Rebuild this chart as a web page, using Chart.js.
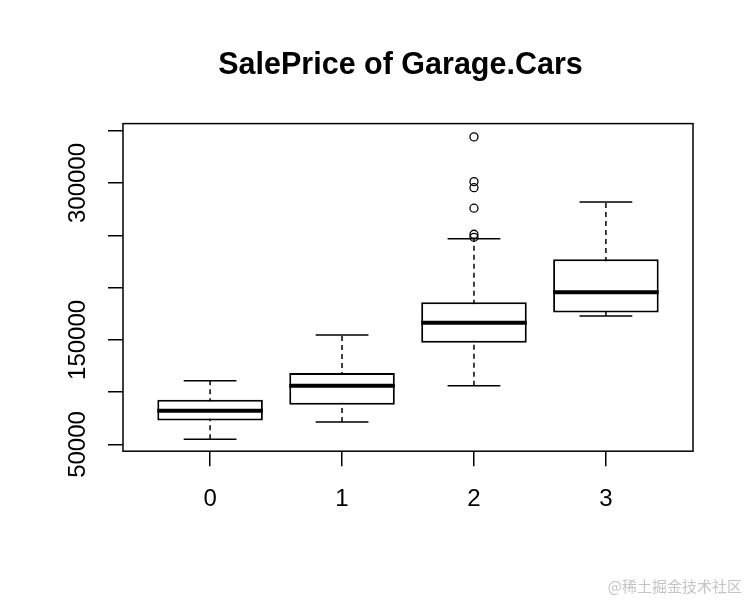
<!DOCTYPE html>
<html>
<head>
<meta charset="utf-8">
<script src="https://cdn.jsdelivr.net/npm/chart.js@4"></script>
<style>
  html, body { margin: 0; padding: 0; background: #fff; }
  #wrap { width: 756px; height: 606px; }
</style>
</head>
<body>
<div id="wrap"><canvas id="myChart" width="756" height="606"></canvas></div>
<script>
// boxplot stats, one entry per Garage.Cars group
var categories = ['0', '1', '2', '3'];
var whiskerLow = [55100, 71400, 106100, 172900];
var q1 = [73000, 87900, 147300, 176100];
var median = [82200, 106100, 166500, 195600];
var q3 = [92700, 118300, 186000, 227200];
var whiskerHigh = [110900, 154700, 246700, 281800];
var outliers = [[], [], [344100, 301300, 295500, 275900, 251000, 248100], []];
var yTicks = [50000, 100000, 150000, 200000, 250000, 300000, 350000];
var yLabels = [50000, 150000, 300000];

// helper: list of line segments -> line data with gaps between them
function segments(list) {
    var out = [];
    list.forEach(function (s) {
        out.push({ x: s[0], y: s[1] }, { x: s[2], y: s[3] }, { x: s[2], y: null });
    });
    return out;
}

var pos = categories.map(function (c, i) { return i + 1; });

var boxData = pos.map(function (x, i) { return { x: x, y: [q1[i], q3[i]] }; });
var medianData = segments(pos.map(function (x, i) { return [x - 0.4, median[i], x + 0.4, median[i]]; }));
var whiskerData = segments(pos.map(function (x, i) { return [x, whiskerLow[i], x, whiskerHigh[i]]; }));
var capData = segments(pos.map(function (x, i) { return [x - 0.2, whiskerLow[i], x + 0.2, whiskerLow[i]]; })
    .concat(pos.map(function (x, i) { return [x - 0.2, whiskerHigh[i], x + 0.2, whiskerHigh[i]]; })));
var outlierData = [];
outliers.forEach(function (arr, i) {
    arr.forEach(function (v) { outlierData.push({ x: pos[i], y: v }); });
});

var frame = {
    id: 'frame',
    afterDatasetsDraw: function (chart) {
        var a = chart.chartArea, ctx = chart.ctx;
        ctx.save();
        ctx.strokeStyle = '#000';
        ctx.lineWidth = 1.5;
        ctx.strokeRect(a.left, a.top, a.right - a.left, a.bottom - a.top);
        ctx.restore();
    },
    afterDraw: function (chart) {
        var ctx = chart.ctx, y = chart.scales.y;
        ctx.save();
        // rotated y labels, R style (reading bottom to top)
        ctx.fillStyle = '#000';
        ctx.font = '24px "Liberation Sans", Arial, sans-serif';
        ctx.textAlign = 'center';
        ctx.textBaseline = 'middle';
        yLabels.forEach(function (v) {
            ctx.save();
            ctx.translate(y.left - 30, y.getPixelForValue(v));
            ctx.rotate(-Math.PI / 2);
            ctx.fillText(String(v), 0, 0);
            ctx.restore();
        });
        ctx.fillStyle = '#c4c4c4';
        ctx.font = '15px "Noto Sans CJK SC"';
        ctx.textAlign = 'right';
        ctx.fillText('@稀土掘金技术社区', 742, 586);
        ctx.restore();
    }
};

Chart.defaults.font.family = '"Liberation Sans", Arial, sans-serif';
Chart.defaults.color = '#000';

var ctx = document.getElementById('myChart');
var myChart = new Chart(ctx, {
    type: 'bar',
    data: {
        datasets: [{
            type: 'line',
            data: medianData,
            borderColor: '#000',
            borderWidth: 4,
            pointRadius: 0,
            spanGaps: false,
            order: 0
        },
        {
            type: 'scatter',
            data: outlierData,
            pointStyle: 'circle',
            pointRadius: 4,
            borderWidth: 1.3,
            borderColor: '#000',
            backgroundColor: 'rgba(0,0,0,0)',
            order: 0
        },
        {
            type: 'bar',
            data: boxData,
            backgroundColor: '#fff',
            borderColor: '#000',
            borderWidth: 2,
            borderSkipped: false,
            categoryPercentage: 1,
            barPercentage: 0.8,
            order: 1
        },
        {
            type: 'line',
            data: capData,
            borderColor: '#000',
            borderWidth: 1.5,
            pointRadius: 0,
            spanGaps: false,
            order: 2
        },
        {
            type: 'line',
            data: whiskerData,
            borderColor: '#000',
            borderWidth: 1.5,
            borderDash: [5, 4],
            pointRadius: 0,
            spanGaps: false,
            order: 3
        }]
    },
    options: {
        responsive: false,
        animation: false,
        layout: { padding: { left: 108, right: 63, top: 0, bottom: 73 } },
        plugins: {
            legend: { display: false },
            tooltip: { enabled: false },
            title: {
                display: true,
                text: 'SalePrice of Garage.Cars',
                color: '#000',
                font: { size: 30.5, weight: 'bold' },
                padding: { top: 47, bottom: 40 }
            }
        },
        scales: {
            x: {
                type: 'linear',
                min: 0.34,
                max: 4.66,
                offset: false,
                afterBuildTicks: function (scale) {
                    scale.ticks = pos.map(function (v) { return { value: v }; });
                },
                ticks: {
                    autoSkip: false,
                    padding: 19,
                    font: { size: 24 },
                    callback: function (v) { return categories[v - 1]; }
                },
                grid: { offset: false, drawOnChartArea: false, tickLength: 15, color: '#000', lineWidth: 1.5 },
                border: { display: false }
            },
            y: {
                type: 'linear',
                min: 43600,
                max: 356800,
                afterBuildTicks: function (scale) {
                    scale.ticks = yTicks.map(function (v) { return { value: v }; });
                },
                ticks: { display: false, autoSkip: false },
                grid: { drawOnChartArea: false, tickLength: 15, color: '#000', lineWidth: 1.5 },
                border: { display: false }
            }
        }
    },
    plugins: [frame]
});
</script>
</body>
</html>
